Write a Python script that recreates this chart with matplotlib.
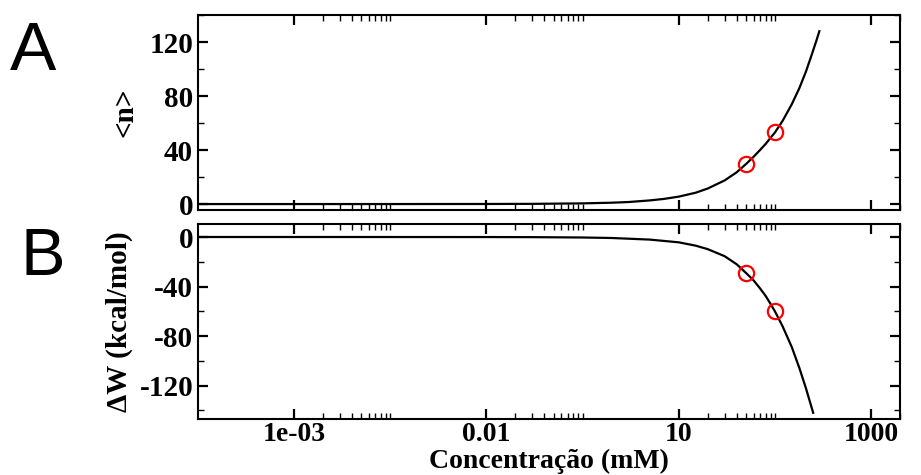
import matplotlib
matplotlib.use("Agg")
import matplotlib.pyplot as plt
from matplotlib.ticker import FixedLocator, MultipleLocator, NullFormatter

plt.rcParams["axes.unicode_minus"] = False

# Concentration (mM) and average number of bound ions
conc_n = [1e-4, 1e-3, 1e-2, 0.1, 0.3, 1.0, 2.0, 3.0, 5.0, 7.0, 10.0, 15.0,
          20.0, 30.0, 40.0, 50.0, 60.0, 70.0, 80.0, 90.0, 100.0, 120.0,
          150.0, 180.0, 210.0, 240.0, 270.0, 290.0]
n_avg = [0.0, 0.0, 0.01, 0.06, 0.15, 0.5, 1.0, 1.5, 2.7, 3.8, 5.5, 8.4,
         11.5, 17.5, 23.5, 29.6, 35.0, 40.0, 44.5, 49.0, 53.0, 61.5,
         74.0, 86.0, 98.0, 110.0, 121.0, 128.0]

# Concentration (mM) and free-energy change (kcal/mol)
conc_w = [1e-4, 1e-3, 1e-2, 0.1, 0.3, 1.0, 2.0, 5.0, 10.0, 15.0, 20.0, 30.0,
          40.0, 50.0, 60.0, 70.0, 80.0, 90.0, 100.0, 120.0, 150.0, 180.0,
          210.0, 250.0]
delta_w = [0.0, 0.0, -0.01, -0.04, -0.12, -0.4, -0.8, -2.1, -4.3, -7.0, -9.8,
           -15.5, -22.0, -29.0, -35.0, -41.5, -47.5, -54.0, -60.0, -72.0,
           -89.0, -106.0, -122.0, -142.0]

# Simulated points
conc_pts = [50.0, 100.0]
n_pts = [29.6, 53.0]
dw_pts = [-29.0, -60.0]

xtick_vals = [1e-3, 1e-1, 1e1, 1e3]
xtick_labels = ["1e-03", "0.01", "10", "1000"]

SERIF = "Liberation Serif"
TICK_FS = 20

fig = plt.figure(figsize=(9.21, 4.75), dpi=100)
ax1 = fig.add_axes([198 / 921, 1 - 210 / 475, 702 / 921, 195 / 475])
ax2 = fig.add_axes([198 / 921, 1 - 419 / 475, 702 / 921, 195 / 475])

minor_x = [k * m for m in xtick_vals for k in range(2, 11)]

for ax in (ax1, ax2):
    ax.set_xscale("log")
    ax.set_xlim(1e-4, 2000)
    ax.xaxis.set_major_locator(FixedLocator(xtick_vals))
    ax.xaxis.set_minor_locator(FixedLocator(minor_x))
    ax.xaxis.set_minor_formatter(NullFormatter())
    ax.yaxis.set_major_locator(MultipleLocator(40))
    ax.yaxis.set_minor_locator(MultipleLocator(20))
    ax.tick_params(which="both", direction="in", top=True, right=True)
    ax.tick_params(which="major", length=7, width=1.6)
    ax.tick_params(which="minor", length=4.5, width=1.0)
    for sp in ax.spines.values():
        sp.set_linewidth(1.5)

ax1.plot(conc_n, n_avg, color="black", lw=1.6)
ax1.plot(conc_pts, n_pts, "o", ms=11, mfc="none", mec="red", mew=1.6)
ax1.set_ylim(-4.4, 140)
ax1.set_xticklabels([])
ax1.set_ylabel("<n>", fontfamily=SERIF, fontweight="bold", fontsize=21)
ax1.yaxis.set_label_coords((138 - 198) / 702, 0.5)

ax2.plot(conc_w, delta_w, color="black", lw=1.6)
ax2.plot(conc_pts, dw_pts, "o", ms=11, mfc="none", mec="red", mew=1.6)
ax2.set_ylim(-147, 10.5)
ax2.set_xticklabels(xtick_labels, fontfamily=SERIF, fontweight="bold", fontsize=TICK_FS)
ax2.set_ylabel("\u0394W (kcal/mol)", fontfamily=SERIF, fontweight="bold", fontsize=21)
ax2.yaxis.set_label_coords((133 - 198) / 702, 0.5)

for ax in (ax1, ax2):
    for lab in ax.get_yticklabels():
        lab.set_fontfamily(SERIF)
        lab.set_fontweight("bold")
        lab.set_fontsize(21)
ax2.tick_params(axis="x", which="major", pad=2)

fig.text(549 / 921, (475 - 468) / 475, "Concentra\u00e7\u00e3o (mM)", ha="center",
         va="baseline", fontfamily=SERIF, fontweight="bold", fontsize=20)

fig.text(10 / 921, 1 - 70 / 475, "A", fontfamily="Liberation Sans", fontsize=50)
fig.text(20 / 921, 1 - 275 / 475, "B", fontfamily="Liberation Sans", fontsize=48)

fig.savefig("out.png", dpi=100)
